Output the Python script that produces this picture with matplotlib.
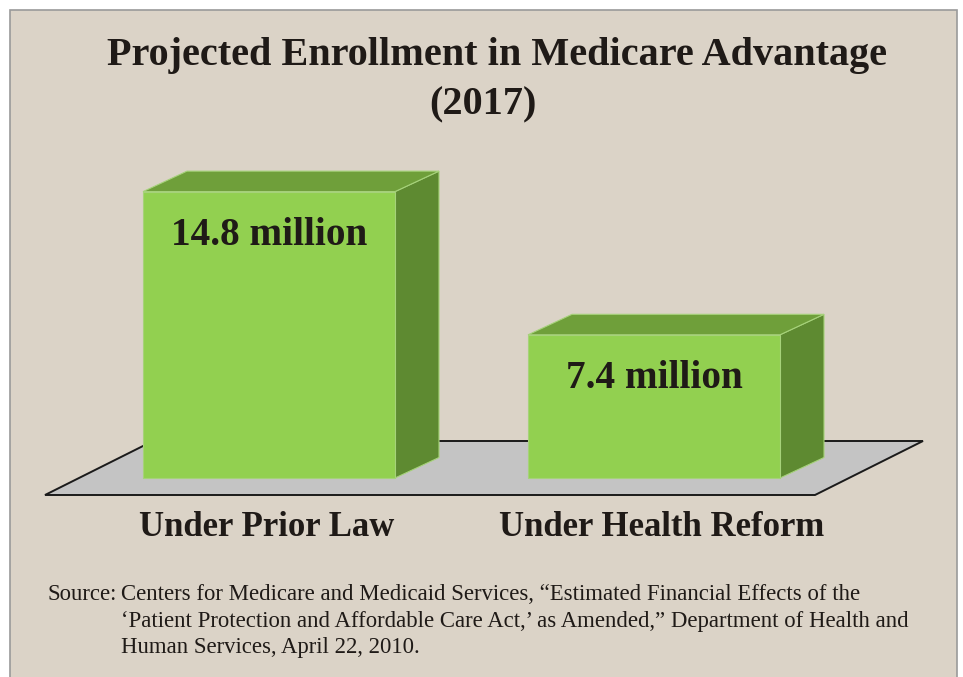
import matplotlib
matplotlib.use("Agg")
import matplotlib.pyplot as plt
from matplotlib.patches import Polygon, Rectangle

# ---- data ----
categories = ["Under Prior Law", "Under Health Reform"]
values = [14.8, 7.4]
value_labels = ["14.8 million", "7.4 million"]
title_line1 = "Projected Enrollment in Medicare Advantage"
title_line2 = "(2017)"
source_head = "Source:"
source_lines = [
    "Centers for Medicare and Medicaid Services, \u201cEstimated Financial Effects of the",
    "\u2018Patient Protection and Affordable Care Act,\u2019 as Amended,\u201d Department of Health and",
    "Human Services, April 22, 2010.",
]

# ---- style ----
W, H = 963, 677
BG = "#dbd3c7"
FRONT = "#92d050"
TOP = "#6f9f3a"
SIDE = "#5e8a31"
EDGE = "#a6d27a"
FLOOR = "#c4c4c4"
INK = "#1f1a17"
SERIF = ["Liberation Serif", "DejaVu Serif"]
label_shift_px = [-2, 8]

px_per_x = 385.0      # pixels per category step
px_per_y = 19.35      # pixels per million
x0_px, y0_px = 269.0, 478.0   # pixel location of (0, 0)

fig = plt.figure(figsize=(W / 100, H / 100), dpi=100)
fig.patch.set_facecolor("white")
# panel
fig.patches.append(Rectangle((10 / W, -0.01), (957 - 10) / W, (H - 10) / H + 0.01,
                             transform=fig.transFigure, facecolor=BG,
                             edgecolor="#9a9a9a", linewidth=1.2, zorder=-10))

ax = fig.add_axes([0, 0, 1, 1])
ax.set_zorder(1)
ax.set_xlim(-x0_px / px_per_x, (W - x0_px) / px_per_x)
ax.set_ylim(-(H - y0_px) / px_per_y, y0_px / px_per_y)
ax.axis("off")
ax.patch.set_alpha(0)

def px(xp, yp):
    return ((xp - x0_px) / px_per_x, (y0_px - yp) / px_per_y)

# floor
floor = Polygon([px(45, 495), px(815, 495), px(923, 441), px(153, 441)],
                closed=True, facecolor=FLOOR, edgecolor="#1a1a1a", linewidth=1.4, zorder=1)
ax.add_patch(floor)

bar_w = 252 / px_per_x
dx = 44 / px_per_x
dy = 20.5 / px_per_y

for i, v in enumerate(values):
    xl = i - bar_w / 2
    xr = i + bar_w / 2
    # side
    ax.add_patch(Polygon([(xr, 0), (xr + dx, dy), (xr + dx, v + dy), (xr, v)],
                         closed=True, facecolor=SIDE, edgecolor=EDGE, linewidth=0.8, zorder=3))
    # top
    ax.add_patch(Polygon([(xl, v), (xr, v), (xr + dx, v + dy), (xl + dx, v + dy)],
                         closed=True, facecolor=TOP, edgecolor=EDGE, linewidth=0.8, zorder=3))
    # front
    ax.add_patch(Rectangle((xl, 0), bar_w, v, facecolor=FRONT, edgecolor=EDGE,
                           linewidth=0.8, zorder=4))
    ax.text(i, v - 44 / px_per_y, value_labels[i], ha="center", va="center",
            fontsize=28.3, fontweight="bold", family=SERIF, color=INK, zorder=5)
    ax.text(i + label_shift_px[i] / px_per_x, -(528 - y0_px) / px_per_y, categories[i],
            ha="center", va="center",
            fontsize=25, fontweight="bold", family=SERIF, color=INK, zorder=5)

fig.text(497 / W, 1 - 56 / H, title_line1,
         ha="center", va="center", fontsize=29, fontweight="bold", family=SERIF, color=INK)
fig.text(483 / W, 1 - 105 / H, title_line2,
         ha="center", va="center", fontsize=29, fontweight="bold", family=SERIF, color=INK)

fig.text(47 / W, 1 - 595 / H, source_head, ha="left", va="center",
         fontsize=16.4, family=SERIF, color=INK)
for k, line in enumerate(source_lines):
    fig.text(121 / W, 1 - (595 + 26.5 * k) / H, line, ha="left", va="center",
             fontsize=16.4, family=SERIF, color=INK)

fig.savefig("out.png", dpi=100, facecolor=fig.get_facecolor())
